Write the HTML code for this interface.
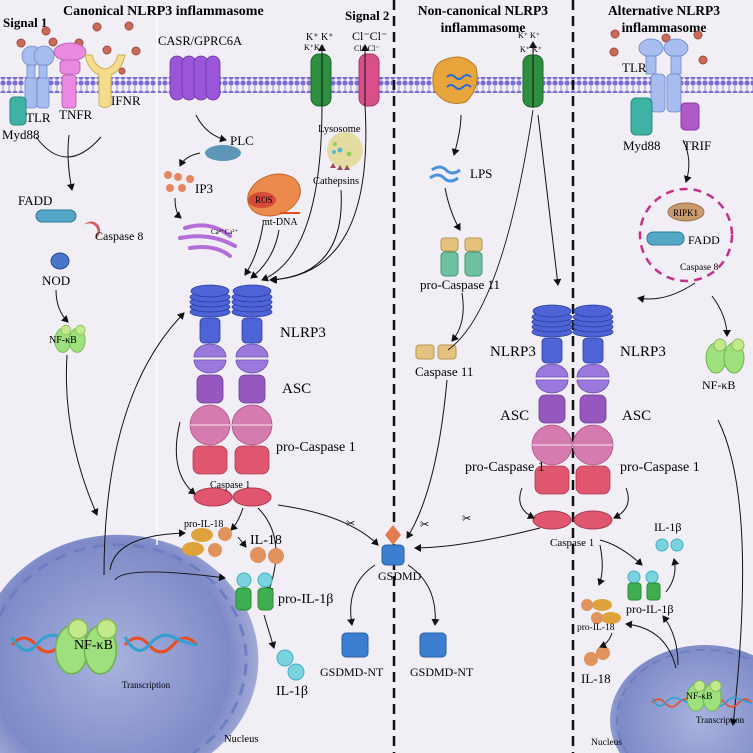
<!DOCTYPE html>
<html><head><meta charset="utf-8"><style>
html,body{margin:0;padding:0;background:#f1eff5;width:753px;height:753px;overflow:hidden;}
svg{display:block;font-family:"Liberation Serif",serif;}
.b{font-weight:bold;}
</style></head><body>
<svg width="753" height="753" viewBox="0 0 753 753" xmlns="http://www.w3.org/2000/svg" overflow="hidden">
<defs>
<pattern id="mem" x="0" y="0" width="6" height="16" patternUnits="userSpaceOnUse">
<circle cx="3" cy="3" r="2.6" fill="#7a6ed6"/><circle cx="3" cy="13" r="2.6" fill="#7a6ed6"/>
<rect x="2.3" y="5" width="1.4" height="6" fill="#b7afe6"/>
</pattern>
<radialGradient id="nuc" gradientUnits="userSpaceOnUse" cx="110" cy="660" r="150"><stop offset="0" stop-color="#a9b3de"/><stop offset="0.8" stop-color="#7d8ac7"/><stop offset="1" stop-color="#a6acd8"/></radialGradient>
<radialGradient id="nuc2" gradientUnits="userSpaceOnUse" cx="700" cy="720" r="100"><stop offset="0" stop-color="#a9b3de"/><stop offset="0.8" stop-color="#7d8ac7"/><stop offset="1" stop-color="#a6acd8"/></radialGradient>
<marker id="ar" markerWidth="8" markerHeight="8" refX="6" refY="4" orient="auto"><path d="M0,0 L7,4 L0,8 z" fill="#111"/></marker>
<g id="stack">
<g fill="#4e63d6" stroke="#2a3b9e" stroke-width="0.8">
<ellipse cx="0" cy="27" rx="20" ry="5"/><ellipse cx="0" cy="22" rx="20" ry="5"/><ellipse cx="0" cy="17" rx="20" ry="5"/><ellipse cx="0" cy="12" rx="20" ry="5"/><ellipse cx="0" cy="6" rx="19" ry="6"/>
<rect x="-10" y="33" width="20" height="25" rx="4"/></g>
<path d="M-16,72 a16,13 0 0 1 32,0 z" fill="#9a78dc" stroke="#6b4cb0" stroke-width="0.8"/>
<path d="M-16,75 a16,13 0 0 0 32,0 z" fill="#9a78dc" stroke="#6b4cb0" stroke-width="0.8"/>
<rect x="-13" y="90" width="26" height="28" rx="6" fill="#9658bf" stroke="#6a3b95" stroke-width="0.8"/>
<circle cx="0" cy="140" r="20" fill="#d57bb0" stroke="#b04f8a" stroke-width="0.8"/>
<line x1="-20" y1="140" x2="20" y2="140" stroke="#f1d0e3" stroke-width="1.2"/>
<rect x="-17" y="161" width="34" height="28" rx="7" fill="#e0566f" stroke="#b03a52" stroke-width="0.8"/>
</g>
<g id="nfkb"><ellipse cx="-9" cy="3" rx="10" ry="15" fill="#9fe07e" stroke="#6fb24e"/><ellipse cx="9" cy="3" rx="10" ry="15" fill="#9fe07e" stroke="#6fb24e"/><circle cx="-5" cy="-10" r="6" fill="#c3ea8a" stroke="#8cbc5a"/><circle cx="13" cy="-10" r="6" fill="#c3ea8a" stroke="#8cbc5a"/></g>
<g id="dna" fill="none" stroke-width="3"><path d="M0,0 q12,-14 24,0 t24,0 t24,0" stroke="#e84c1f"/><path d="M0,-8 q12,22 24,8 t24,-8 t24,8" stroke="#34a0cf"/></g>
</defs>
<rect width="753" height="753" fill="#f1eff5"/>
<!-- nuclei -->
<path d="M0,593 A140,125 0 1 1 211.6,753 L0,753 Z" fill="url(#nuc)"/>
<path d="M0,615.5 A128,115 0 1 1 193,753" fill="none" stroke="#6d7ec0" stroke-width="3" stroke-dasharray="12,8"/>
<path d="M619.7,753 A95,75 0 0 1 753,655.3 L753,753 Z" fill="url(#nuc2)"/>
<path d="M627.4,753 A88,70 0 0 1 753,661.3" fill="none" stroke="#6d7ec0" stroke-width="2" stroke-dasharray="9,6"/>
<!-- membrane -->
<rect x="0" y="77" width="753" height="16" fill="url(#mem)"/>
<line x1="157" y1="0" x2="157" y2="545" stroke="#ffffff" stroke-width="1.5"/>
<line x1="394" y1="0" x2="394" y2="753" stroke="#111" stroke-width="2.5" stroke-dasharray="10,6"/>
<line x1="573" y1="0" x2="573" y2="753" stroke="#111" stroke-width="2.5" stroke-dasharray="10,6"/>
<!-- titles -->
<text x="63" y="15" font-size="14" class="b">Canonical NLRP3 inflammasome</text>
<text x="3" y="27" font-size="13" class="b">Signal 1</text>
<text x="345" y="20" font-size="13" class="b">Signal 2</text>
<text x="483" y="15" font-size="13.5" class="b" text-anchor="middle">Non-canonical NLRP3</text>
<text x="483" y="32" font-size="13.5" class="b" text-anchor="middle">inflammasome</text>
<text x="664" y="15" font-size="13.5" class="b" text-anchor="middle">Alternative NLRP3</text>
<text x="664" y="32" font-size="13.5" class="b" text-anchor="middle">inflammasome</text>
<!-- ligands -->
<g fill="#c96a5a" stroke="#a44a3d"><circle cx="46" cy="31" r="4"/><circle cx="21" cy="43" r="4"/><circle cx="53" cy="42" r="4"/><circle cx="79" cy="43" r="4"/><circle cx="97" cy="27" r="4"/><circle cx="129" cy="26" r="4"/><circle cx="107" cy="50" r="4"/><circle cx="136" cy="51" r="4"/><circle cx="122" cy="71" r="3"/>
<circle cx="615" cy="34" r="4"/><circle cx="666" cy="38" r="4"/><circle cx="698" cy="35" r="4"/><circle cx="614" cy="52" r="4"/><circle cx="703" cy="60" r="4"/></g>
<!-- TLR left -->
<g fill="#a7bdf0" stroke="#6c86c8" stroke-width="0.8">
<ellipse cx="32" cy="56" rx="10" ry="10"/><ellipse cx="44" cy="56" rx="10" ry="10"/>
<rect x="27" y="65" width="8" height="15"/><rect x="39" y="65" width="8" height="15"/>
<rect x="25" y="78" width="12" height="30" rx="3"/><rect x="37" y="78" width="12" height="30" rx="3"/></g>
<rect x="10" y="97" width="16" height="28" rx="4" fill="#3fb3a3" stroke="#248b7c"/>
<g fill="#e98ae0" stroke="#b354ad" stroke-width="0.8"><ellipse cx="70" cy="52" rx="16" ry="9"/><rect x="60" y="60" width="20" height="14" rx="4"/><rect x="62" y="75" width="14" height="33" rx="3"/></g>
<path d="M85,55 q3,15 14,20 l0,30 q6,5 12,0 l0,-30 q11,-5 14,-20 l-7,0 q-3,12 -13,14 q-10,-2 -13,-14 z" fill="#f5dc8c" stroke="#cbb05a"/>
<text x="26" y="122" font-size="13">TLR</text>
<text x="59" y="119" font-size="13">TNFR</text>
<text x="111" y="105" font-size="13">IFNR</text>
<text x="2" y="139" font-size="13">Myd88</text>
<path d="M36,137 q30,40 65,0" fill="none" stroke="#111"/>
<path d="M69,135 q-3,25 3,55" fill="none" stroke="#111" marker-end="url(#ar)"/>
<text x="18" y="205" font-size="13">FADD</text>
<rect x="36" y="210" width="40" height="12" rx="6" fill="#54a8c6" stroke="#2d7c98"/>
<path d="M84,225 a9,9 0 1 1 10,14 a7,7 0 0 0 -10,-14z" fill="#d55a5a"/>
<text x="95" y="240" font-size="12">Caspase 8</text>
<ellipse cx="60" cy="261" rx="9" ry="8" fill="#4876c8" stroke="#2a4e96"/>
<text x="42" y="285" font-size="13">NOD</text>
<path d="M56,290 q0,20 12,32" fill="none" stroke="#111" marker-end="url(#ar)"/>
<g transform="translate(70,338) scale(0.8)"><use href="#nfkb"/></g>
<text x="49" y="343" font-size="10">NF-κB</text>
<path d="M67,355 q-5,80 30,160" fill="none" stroke="#111" marker-end="url(#ar)"/>
<path d="M104,575 q0,-180 80,-262" fill="none" stroke="#111" marker-end="url(#ar)"/>
<!-- CASR -->
<g fill="#9a55d8" stroke="#6b32a6" stroke-width="0.8"><rect x="170" y="56" width="14" height="44" rx="7"/><rect x="182" y="56" width="14" height="44" rx="7"/><rect x="194" y="56" width="14" height="44" rx="7"/><rect x="206" y="56" width="14" height="44" rx="7"/></g>
<text x="158" y="45" font-size="12.5">CASR/GPRC6A</text>
<path d="M196,115 q10,20 30,25" fill="none" stroke="#111" marker-end="url(#ar)"/>
<ellipse cx="223" cy="153" rx="18" ry="8" fill="#5e96b8"/>
<text x="230" y="145" font-size="13">PLC</text>
<path d="M200,153 q-15,3 -20,13" fill="none" stroke="#111" marker-end="url(#ar)"/>
<g fill="#e5875e"><circle cx="168" cy="175" r="4"/><circle cx="178" cy="177" r="4"/><circle cx="190" cy="179" r="4"/><circle cx="170" cy="188" r="4"/><circle cx="182" cy="188" r="4"/></g>
<text x="195" y="193" font-size="13">IP3</text>
<path d="M175,198 q0,15 6,20" fill="none" stroke="#111" marker-end="url(#ar)"/>
<g fill="none" stroke="#b56ed9" stroke-width="4" stroke-linecap="round"><path d="M185,228 q25,-8 45,8"/><path d="M180,238 q30,-6 55,8"/><path d="M190,248 q25,-4 40,8"/></g>
<text x="211" y="234" font-size="7">Ca²⁺Ca²⁺</text>
<ellipse cx="274" cy="195" rx="27" ry="20" fill="#ec8a4c" stroke="#c46428" transform="rotate(-20 274 195)"/>
<ellipse cx="262" cy="200" rx="14" ry="8" fill="#d64a3a"/>
<text x="255" y="203" font-size="9">ROS</text>
<text x="262" y="225" font-size="10">mt-DNA</text>
<line x1="280" y1="213" x2="300" y2="213" stroke="#e84c1f" stroke-width="2"/>
<!-- K+ and Cl- channels -->
<rect x="311" y="54" width="20" height="52" rx="8" fill="#2d8e3d" stroke="#1d6a2a"/>
<rect x="359" y="54" width="20" height="52" rx="8" fill="#d8508a" stroke="#a83466"/>
<text x="306" y="40" font-size="10">K⁺ K⁺</text><text x="304" y="50" font-size="8">K⁺K⁺</text>
<text x="352" y="40" font-size="12">Cl⁻Cl⁻</text><text x="354" y="51" font-size="8">Cl⁻ Cl⁻</text>
<path d="M322,105 L322,45" fill="none" stroke="#111" marker-end="url(#ar)"/>
<path d="M365,105 L365,45" fill="none" stroke="#111" marker-end="url(#ar)"/>
<text x="318" y="132" font-size="10.5">Lysosome</text>
<circle cx="345" cy="150" r="18" fill="#e1d78c" opacity="0.8"/>
<g fill="#59b6d8"><circle cx="340" cy="150" r="2.5"/><circle cx="334" cy="152" r="2"/></g><g fill="#8cd25a"><circle cx="349" cy="154" r="2.5"/><circle cx="335" cy="144" r="2"/></g>
<g fill="#9b4a58"><path d="M330,168 l3,-5 3,5z"/><path d="M337,170 l3,-5 3,5z"/><path d="M344,170 l3,-5 3,5z"/></g>
<text x="313" y="184" font-size="10.5">Cathepsins</text>
<path d="M263,225 q-5,30 -18,50" fill="none" stroke="#111" marker-end="url(#ar)"/>
<path d="M279,230 q-5,30 -28,48" fill="none" stroke="#111" marker-end="url(#ar)"/>
<path d="M322,105 q0,150 -60,175" fill="none" stroke="#111" marker-end="url(#ar)"/>
<path d="M341,190 q5,85 -70,90" fill="none" stroke="#111" marker-end="url(#ar)"/>
<path d="M365,105 q10,170 -95,175" fill="none" stroke="#111" marker-end="url(#ar)"/>
<!-- left stacks -->
<use href="#stack" transform="translate(210,285)"/>
<use href="#stack" transform="translate(252,285)"/>
<text x="280" y="337" font-size="15">NLRP3</text>
<text x="282" y="393" font-size="15">ASC</text>
<text x="276" y="451" font-size="14">pro-Caspase 1</text>
<ellipse cx="213" cy="497" rx="19" ry="9" fill="#e0566f" stroke="#b03a52"/>
<ellipse cx="252" cy="497" rx="19" ry="9" fill="#e0566f" stroke="#b03a52"/>
<text x="210" y="488" font-size="10">Caspase 1</text>
<path d="M180,422 q-12,50 15,72" fill="none" stroke="#111" marker-end="url(#ar)"/>
<path d="M243,508 q-5,15 -12,22" fill="none" stroke="#111" marker-end="url(#ar)"/>
<path d="M258,508 q30,30 10,85" fill="none" stroke="#111" marker-end="url(#ar)"/>
<path d="M278,505 q70,10 100,40" fill="none" stroke="#111" marker-end="url(#ar)"/>
<text x="346" y="527" font-size="11">✂</text>
<text x="184" y="527" font-size="10">pro-IL-18</text>
<g fill="#e0a23a"><ellipse cx="202" cy="535" rx="11" ry="7"/><ellipse cx="193" cy="549" rx="11" ry="7"/></g>
<g fill="#e0935c"><circle cx="225" cy="534" r="7"/><circle cx="215" cy="550" r="7"/><circle cx="258" cy="555" r="8"/><circle cx="276" cy="556" r="8"/></g>
<text x="250" y="544" font-size="14">IL-18</text>
<path d="M238,537 l8,10" fill="none" stroke="#111" marker-end="url(#ar)"/>
<g fill="#7cd3e0" stroke="#3fb0c4"><circle cx="244" cy="580" r="7"/><circle cx="265" cy="580" r="7"/><circle cx="285" cy="658" r="8"/><circle cx="296" cy="672" r="8"/></g>
<g fill="#3fae4e" stroke="#2a8a38"><rect x="236" y="588" width="15" height="22" rx="4"/><rect x="258" y="588" width="15" height="22" rx="4"/></g>
<text x="278" y="603" font-size="14">pro-IL-1β</text>
<text x="276" y="695" font-size="14">IL-1β</text>
<path d="M264,615 l10,33" fill="none" stroke="#111" marker-end="url(#ar)"/>
<path d="M110,570 q5,-35 75,-37" fill="none" stroke="#111" marker-end="url(#ar)"/>
<path d="M115,580 q10,-15 110,-2" fill="none" stroke="#111" marker-end="url(#ar)"/>
<!-- nucleus content -->
<use href="#dna" transform="translate(12,645)"/><use href="#dna" transform="translate(125,645)"/>
<use href="#nfkb" transform="translate(86,645) scale(1.6)"/>
<text x="74" y="649" font-size="14">NF-κB</text>
<text x="122" y="688" font-size="9">Transcription</text>
<text x="224" y="742" font-size="10.5">Nucleus</text>
<!-- GSDMD -->
<path d="M393,525 l8,10 -8,10 -8,-10z" fill="#e27a52"/>
<rect x="382" y="545" width="22" height="20" rx="4" fill="#3c7fd0" stroke="#285ea2"/>
<text x="378" y="580" font-size="12">GSDMD</text>
<path d="M375,565 q-30,20 -23,60" fill="none" stroke="#111" marker-end="url(#ar)"/>
<path d="M408,565 q30,20 27,60" fill="none" stroke="#111" marker-end="url(#ar)"/>
<rect x="342" y="633" width="26" height="24" rx="4" fill="#3c7fd0" stroke="#285ea2"/>
<rect x="420" y="633" width="26" height="24" rx="4" fill="#3c7fd0" stroke="#285ea2"/>
<text x="320" y="676" font-size="12">GSDMD-NT</text>
<text x="410" y="676" font-size="12">GSDMD-NT</text>
<!-- non-canonical -->
<path d="M440,62 q22,-12 36,5 q5,20 -10,35 q-20,6 -32,-12 q-4,-20 6,-28z" fill="#e8a53c" stroke="#b87a1c"/>
<path d="M447,77 q4,-4 8,0 t8,0 t8,0 M447,87 q4,-4 8,0 t8,0 t8,0" fill="none" stroke="#2b6cd0" stroke-width="2"/>
<rect x="523" y="55" width="20" height="52" rx="8" fill="#2d8e3d" stroke="#1d6a2a"/>
<text x="518" y="38" font-size="8">K⁺ K⁺</text><text x="520" y="52" font-size="8">K⁺ K⁺</text>
<path d="M533,108 L533,42" fill="none" stroke="#111" marker-end="url(#ar)"/>
<path d="M461,115 q0,15 -7,40" fill="none" stroke="#111" marker-end="url(#ar)"/>
<path d="M432,170 q8,-6 14,0 t14,0 M430,178 q8,-6 14,0 t14,0" fill="none" stroke="#4a90dc" stroke-width="3"/>
<text x="470" y="178" font-size="13">LPS</text>
<path d="M445,188 q5,25 15,42" fill="none" stroke="#111" marker-end="url(#ar)"/>
<g fill="#e5c27e" stroke="#b89653"><rect x="441" y="238" width="17" height="13" rx="3"/><rect x="465" y="238" width="17" height="13" rx="3"/></g>
<g fill="#6fc0a0" stroke="#3f947a"><rect x="441" y="252" width="17" height="24" rx="4"/><rect x="465" y="252" width="17" height="24" rx="4"/></g>
<text x="420" y="289" font-size="13">pro-Caspase 11</text>
<path d="M462,293 q5,30 -10,48" fill="none" stroke="#111" marker-end="url(#ar)"/>
<g fill="#e5c27e" stroke="#b89653"><rect x="416" y="345" width="18" height="14" rx="3"/><rect x="438" y="345" width="18" height="14" rx="3"/></g>
<text x="415" y="376" font-size="13">Caspase 11</text>
<path d="M533,110 q-30,200 -85,240" fill="none" stroke="#111" stroke-width="0.9"/>
<path d="M538,115 l20,170" fill="none" stroke="#111" marker-end="url(#ar)"/>
<path d="M447,380 q-10,110 -40,158" fill="none" stroke="#111" marker-end="url(#ar)"/>
<path d="M540,528 q-80,20 -125,20" fill="none" stroke="#111" marker-end="url(#ar)"/>
<text x="462" y="522" font-size="11">✂</text>
<text x="420" y="528" font-size="11">✂</text>
<!-- middle/right stacks -->
<use href="#stack" transform="translate(552,305)"/>
<use href="#stack" transform="translate(593,305)"/>
<text x="490" y="356" font-size="15">NLRP3</text>
<text x="620" y="356" font-size="15">NLRP3</text>
<text x="500" y="420" font-size="15">ASC</text>
<text x="622" y="420" font-size="15">ASC</text>
<text x="465" y="471" font-size="14">pro-Caspase 1</text>
<text x="620" y="471" font-size="14">pro-Caspase 1</text>
<ellipse cx="552" cy="520" rx="19" ry="9" fill="#e0566f" stroke="#b03a52"/>
<ellipse cx="593" cy="520" rx="19" ry="9" fill="#e0566f" stroke="#b03a52"/>
<text x="550" y="546" font-size="11">Caspase 1</text>
<path d="M522,488 q-8,20 12,30" fill="none" stroke="#111" marker-end="url(#ar)"/>
<path d="M626,488 q8,20 -12,30" fill="none" stroke="#111" marker-end="url(#ar)"/>
<!-- alternative -->
<g fill="#a7bdf0" stroke="#6c86c8" stroke-width="0.8">
<ellipse cx="651" cy="48" rx="12" ry="9"/><ellipse cx="676" cy="48" rx="12" ry="9"/>
<rect x="646" y="56" width="10" height="18"/><rect x="671" y="56" width="10" height="18"/>
<rect x="651" y="74" width="14" height="38" rx="4"/><rect x="667" y="74" width="14" height="38" rx="4"/></g>
<text x="622" y="72" font-size="13">TLR</text>
<rect x="631" y="98" width="21" height="37" rx="5" fill="#3fb3a3" stroke="#248b7c"/>
<rect x="681" y="103" width="18" height="27" rx="4" fill="#b05ac8" stroke="#853a9c"/>
<text x="623" y="150" font-size="13">Myd88</text>
<text x="683" y="150" font-size="13">TRIF</text>
<path d="M683,140 q10,20 3,42" fill="none" stroke="#111" marker-end="url(#ar)"/>
<circle cx="686" cy="235" r="46" fill="none" stroke="#c42f8a" stroke-width="2.5" stroke-dasharray="8,6"/>
<ellipse cx="686" cy="212" rx="18" ry="9" fill="#c99a6e" stroke="#9c7048"/>
<text x="673" y="216" font-size="9">RIPK1</text>
<rect x="647" y="232" width="37" height="13" rx="6" fill="#54a8c6" stroke="#2d7c98"/>
<text x="688" y="244" font-size="12">FADD</text>
<path d="M670,258 a10,10 0 1 1 12,16 a8,8 0 0 0 -12,-16z" fill="#d55a5a"/>
<text x="680" y="270" font-size="9.5">Caspase 8</text>
<path d="M695,283 q-30,20 -57,15" fill="none" stroke="#111" marker-end="url(#ar)"/>
<path d="M712,296 q15,20 15,40" fill="none" stroke="#111" marker-end="url(#ar)"/>
<use href="#nfkb" transform="translate(725,355)"/>
<text x="702" y="389" font-size="12">NF-κB</text>
<path d="M718,420 q40,80 15,305" fill="none" stroke="#111" marker-end="url(#ar)"/>
<text x="654" y="531" font-size="12">IL-1β</text>
<g fill="#7cd3e0" stroke="#3fb0c4"><circle cx="662" cy="545" r="6"/><circle cx="677" cy="545" r="6"/><circle cx="634" cy="577" r="6"/><circle cx="652" cy="577" r="6"/></g>
<g fill="#3fae4e" stroke="#2a8a38"><rect x="628" y="583" width="13" height="17" rx="3"/><rect x="647" y="583" width="13" height="17" rx="3"/></g>
<text x="626" y="613" font-size="12">pro-IL-1β</text>
<path d="M666,592 q12,-15 8,-33" fill="none" stroke="#111" marker-end="url(#ar)"/>
<path d="M600,540 q20,5 42,25" fill="none" stroke="#111" marker-end="url(#ar)"/>
<path d="M600,545 q5,25 -1,40" fill="none" stroke="#111" marker-end="url(#ar)"/>
<g fill="#e0a23a"><ellipse cx="602" cy="605" rx="10" ry="6"/><ellipse cx="611" cy="618" rx="10" ry="6"/></g>
<g fill="#e0935c"><circle cx="587" cy="605" r="6"/><circle cx="597" cy="618" r="6"/><circle cx="591" cy="659" r="7"/><circle cx="603" cy="653" r="7"/></g>
<text x="577" y="630" font-size="9.5">pro-IL-18</text>
<text x="581" y="683" font-size="13">IL-18</text>
<path d="M612,633 q-3,10 -12,14" fill="none" stroke="#111" marker-end="url(#ar)"/>
<path d="M676,668 q-10,-40 -50,-44" fill="none" stroke="#111" marker-end="url(#ar)"/>
<path d="M678,665 q0,-30 -15,-49" fill="none" stroke="#111" marker-end="url(#ar)"/>
<use href="#dna" transform="translate(652,703) scale(0.55)"/><use href="#dna" transform="translate(712,703) scale(0.55)"/>
<use href="#nfkb" transform="translate(704,695) scale(0.9)"/>
<text x="686" y="699" font-size="9.5">NF-κB</text>
<text x="696" y="723" font-size="9">Transcription</text>
<text x="591" y="745" font-size="9.5">Nucleus</text>
</svg>
</body></html>
